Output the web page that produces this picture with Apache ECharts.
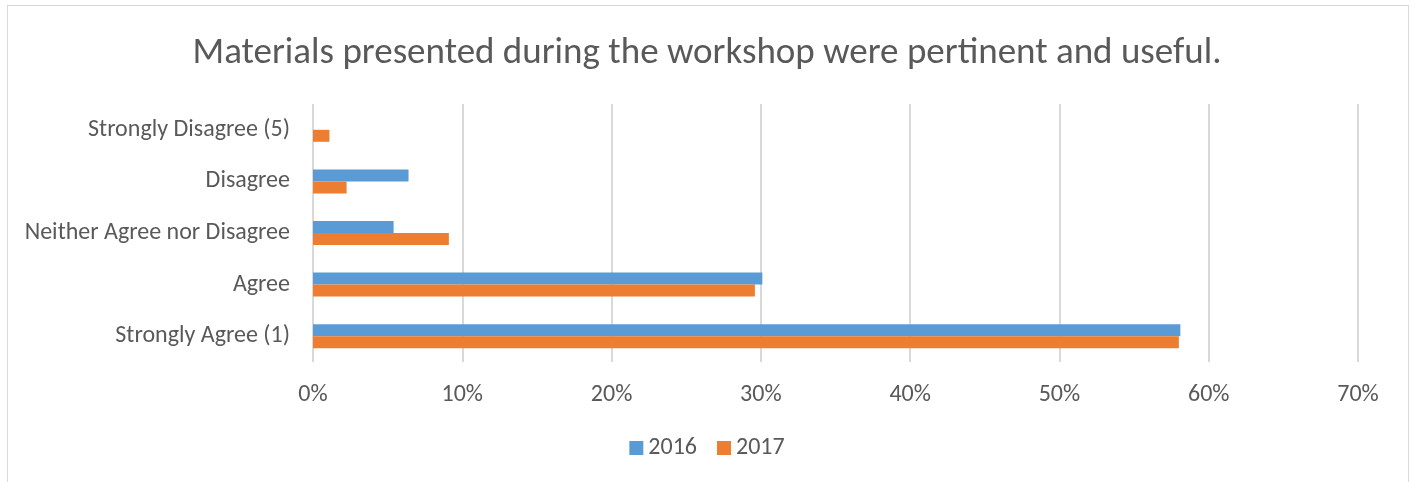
<!DOCTYPE html>
<html>
<head>
<meta charset="utf-8">
<script src="https://cdn.jsdelivr.net/npm/echarts@6/dist/echarts.min.js"></script>
<style>
html,body{margin:0;padding:0;background:#fff;}
#frame{position:absolute;left:7px;top:5px;width:1402px;height:500px;border:1px solid #d9d9d9;box-sizing:border-box;}
#chart{position:absolute;left:0;top:0;width:1414px;height:482px;}
</style>
</head>
<body>
<div id="frame"></div>
<div id="chart"></div>
<script>
var titleText = 'Materials presented during the workshop were pertinent and useful.';
var categories = ['Strongly Disagree (5)', 'Disagree', 'Neither Agree nor Disagree', 'Agree', 'Strongly Agree (1)'];
var seriesNames = ['2016', '2017'];
var values2016 = [0, 6.4, 5.4, 30.1, 58.1];
var values2017 = [1.1, 2.25, 9.1, 29.6, 58.0];
var xTicks = [0, 10, 20, 30, 40, 50, 60, 70];

var fontFam = 'Carlito, Calibri, "Open Sans", sans-serif';
var chart = echarts.init(document.getElementById('chart'), null, {renderer: 'canvas'});
chart.setOption({
  backgroundColor: 'transparent',
  animation: false,
  title: {
    text: titleText,
    left: 'center',
    top: 30,
    textStyle: {fontFamily: fontFam, fontSize: 37, fontWeight: 'normal', color: '#595959'}
  },
  legend: {
    data: seriesNames,
    top: 431,
    left: 'center',
    itemWidth: 14,
    itemHeight: 14,
    itemGap: 20,
    icon: 'rect',
    textStyle: {fontFamily: fontFam, fontSize: 24, color: '#595959'}
  },
  grid: {left: 313, right: 56, top: 104, bottom: 120, containLabel: false},
  xAxis: {
    type: 'value',
    min: xTicks[0],
    max: xTicks[xTicks.length - 1],
    interval: 10,
    axisLine: {show: false},
    axisTick: {show: false},
    splitLine: {show: true, lineStyle: {color: '#d9d9d9', width: 2}},
    axisLabel: {formatter: '{value}%', margin: 21, fontFamily: fontFam, fontSize: 24, color: '#595959'}
  },
  yAxis: {
    type: 'category',
    data: categories,
    inverse: true,
    axisLine: {show: false},
    axisTick: {show: false},
    axisLabel: {margin: 23, fontFamily: fontFam, fontSize: 24, color: '#595959'}
  },
  series: [
    {name: seriesNames[0], type: 'bar', data: values2016, barWidth: 12, barGap: '0%',
     itemStyle: {color: '#5B9BD5'}},
    {name: seriesNames[1], type: 'bar', data: values2017, barWidth: 12, barGap: '0%',
     itemStyle: {color: '#ED7D31'}}
  ]
});
</script>
</body>
</html>
